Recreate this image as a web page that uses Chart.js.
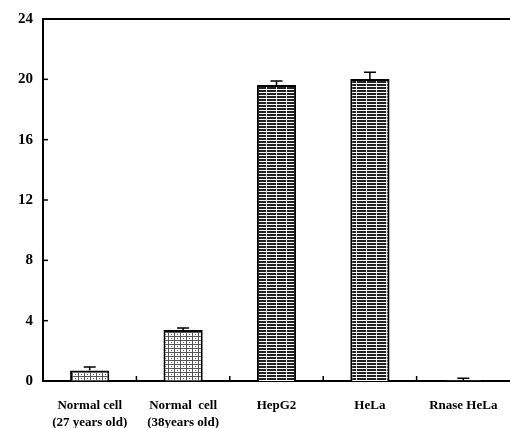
<!DOCTYPE html>
<html>
<head>
<meta charset="utf-8">
<script src="https://cdn.jsdelivr.net/npm/chart.js@4.4.0/dist/chart.umd.min.js"></script>
<style>
  html, body { margin: 0; padding: 0; background: #fff; }
  #wrap { width: 510px; height: 428px; position: relative; }
</style>
</head>
<body>
<div id="wrap"><canvas id="chart"></canvas></div>
<script>
const categories = [
  ['Normal cell', '(27 years old)'],
  ['Normal  cell', '(38years old)'],
  'HepG2',
  'HeLa',
  'Rnase HeLa'
];
const values = [0.7, 3.38, 19.62, 20.02, 0.04];
const errors = [0.23, 0.13, 0.27, 0.45, 0.14];
const yTicks = [0, 4, 8, 12, 16, 20, 24];

function makePattern(kind) {
  const c = document.createElement('canvas');
  const ctx = c.getContext('2d');
  if (kind === 'light') {
    c.width = 6; c.height = 4;
    ctx.fillStyle = '#fff';
    ctx.fillRect(0, 0, 6, 4);
    ctx.fillStyle = '#555';
    ctx.fillRect(0, 0, 6, 1);
    ctx.fillRect(0, 0, 1, 4);
    ctx.fillRect(3, 2, 1, 1);
  } else {
    c.width = 10; c.height = 3;
    ctx.fillStyle = '#fff';
    ctx.fillRect(0, 0, 10, 3);
    ctx.fillStyle = '#222';
    ctx.fillRect(0, 0, 10, 2);
    ctx.fillStyle = '#ddd';
    ctx.fillRect(6, 0, 1, 2);
  }
  return ctx.createPattern(c, 'repeat');
}

const light = makePattern('light');
const dark = makePattern('dark');
const fills = [light, light, dark, dark, dark];

const extras = {
  id: 'extras',
  afterDatasetsDraw(chart) {
    const { ctx, chartArea, scales } = chart;
    const x = scales.x, y = scales.y;
    ctx.save();
    ctx.strokeStyle = '#000';
    // error bars (upper half only, as in the original)
    ctx.lineWidth = 1.5;
    values.forEach((v, i) => {
      const cx = x.getPixelForValue(i);
      const top = y.getPixelForValue(v + errors[i]);
      const mid = y.getPixelForValue(v);
      ctx.beginPath();
      ctx.moveTo(cx, mid); ctx.lineTo(cx, top);
      ctx.moveTo(cx - 6, top); ctx.lineTo(cx + 6, top);
      ctx.stroke();
    });
    // top frame line
    ctx.lineWidth = 2;
    ctx.beginPath();
    ctx.moveTo(chartArea.left, chartArea.top);
    ctx.lineTo(chartArea.right, chartArea.top);
    ctx.stroke();
    // y ticks pointing inward
    ctx.lineWidth = 1.5;
    yTicks.forEach(t => {
      const py = y.getPixelForValue(t);
      ctx.beginPath();
      ctx.moveTo(chartArea.left, py); ctx.lineTo(chartArea.left + 5, py);
      ctx.stroke();
    });
    // x ticks between categories, pointing up
    for (let i = 0; i < categories.length - 1; i++) {
      const px = (x.getPixelForValue(i) + x.getPixelForValue(i + 1)) / 2;
      ctx.beginPath();
      ctx.moveTo(px, chartArea.bottom); ctx.lineTo(px, chartArea.bottom - 5);
      ctx.stroke();
    }
    ctx.restore();
  }
};

new Chart(document.getElementById('chart'), {
  type: 'bar',
  data: {
    labels: categories,
    datasets: [{
      data: values,
      backgroundColor: fills,
      borderColor: '#000',
      borderWidth: 2,
      borderSkipped: 'bottom',
      barPercentage: 0.42,
      categoryPercentage: 1
    }]
  },
  options: {
    responsive: true,
    maintainAspectRatio: false,
    animation: false,
    layout: { padding: { top: 18, right: -5, left: 0, bottom: 0 } },
    plugins: { legend: { display: false }, tooltip: { enabled: false } },
    scales: {
      x: {
        grid: { display: false, drawTicks: false },
        border: { display: true, color: '#000', width: 2 },
        ticks: {
          color: '#000',
          padding: 17,
          maxRotation: 0,
          autoSkip: false,
          font: { family: 'Liberation Serif', size: 13, weight: 'bold', lineHeight: 1.25 }
        },
        afterFit(s) { s.height = 47; s.paddingLeft = 0; s.paddingRight = -5; }
      },
      y: {
        min: 0, max: 24,
        grid: { display: false, drawTicks: false },
        border: { display: true, color: '#000', width: 2 },
        ticks: {
          stepSize: 4,
          color: '#000',
          padding: 10,
          font: { family: 'Liberation Serif', size: 15, weight: 'bold' }
        },
        afterFit(s) { s.width = 43; }
      }
    }
  },
  plugins: [extras]
});
</script>
</body>
</html>
